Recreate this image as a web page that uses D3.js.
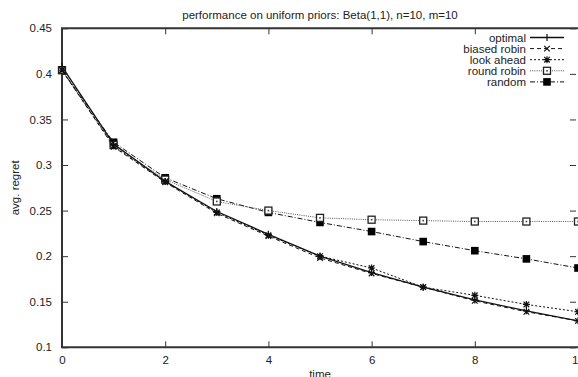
<!DOCTYPE html>
<html>
<head>
<meta charset="utf-8">
<script src="https://cdn.jsdelivr.net/npm/d3@7"></script>
<style>
  html, body { margin: 0; padding: 0; background: #fff; }
  svg { display: block; }
  text { font-family: "Liberation Sans", Arial, Helvetica, sans-serif; fill: #222; }
</style>
</head>
<body>
<svg id="chart" width="578" height="377"></svg>
<script>
const title = "performance on uniform priors: Beta(1,1), n=10, m=10";
const xLabel = "time";
const yLabel = "avg. regret";
const times = [0, 1, 2, 3, 4, 5, 6, 7, 8, 9, 10];
const xTicks = [0, 2, 4, 6, 8, 10];
const yTicks = [0.1, 0.15, 0.2, 0.25, 0.3, 0.35, 0.4, 0.45];

const seriesNames = ["optimal", "biased robin", "look ahead", "round robin", "random"];
const optimal     = [0.408, 0.323, 0.282, 0.249, 0.224, 0.200, 0.182, 0.166, 0.152, 0.140, 0.129];
const biasedRobin = [0.404, 0.320, 0.281, 0.247, 0.222, 0.198, 0.181, 0.166, 0.151, 0.139, 0.129];
const lookAhead   = [0.404, 0.321, 0.282, 0.248, 0.223, 0.200, 0.187, 0.166, 0.157, 0.147, 0.139];
const roundRobin  = [0.404, 0.322, 0.284, 0.260, 0.250, 0.242, 0.240, 0.239, 0.238, 0.238, 0.238];
const random      = [0.404, 0.325, 0.286, 0.263, 0.248, 0.237, 0.227, 0.216, 0.206, 0.197, 0.187];

const seriesValues = [optimal, biasedRobin, lookAhead, roundRobin, random];
const styles = [
  { dash: null,      width: 1.3, color: "#111", marker: "plus" },
  { dash: "4,3",     width: 1,   color: "#111", marker: "cross" },
  { dash: "2,2",     width: 1,   color: "#111", marker: "star" },
  { dash: "1,1.2",   width: 1,   color: "#555", marker: "openSquare" },
  { dash: "5,2,1,2", width: 1,   color: "#111", marker: "filledSquare" }
];

const svg = d3.select("#chart");
const L = 62, R = 578, T = 28.3, B = 347.3;
const x = d3.scaleLinear().domain([0, 10]).range([L, R]);
const y = d3.scaleLinear().domain([0.1, 0.45]).range([B, T]);

// title
svg.append("text").attr("x", 320).attr("y", 19).attr("text-anchor", "middle")
  .attr("font-size", 11.5).text(title);

// axes (gnuplot style inward ticks, mirrored)
const tickLen = 6;
const axisColor = "#333";
const gBottom = svg.append("g").attr("transform", `translate(0,${B})`)
  .call(d3.axisBottom(x).tickValues(xTicks).tickSizeInner(-tickLen).tickSizeOuter(0).tickPadding(9).tickFormat(d3.format("d")));
const gTop = svg.append("g").attr("transform", `translate(0,${T})`)
  .call(d3.axisTop(x).tickValues(xTicks).tickSizeInner(-tickLen).tickSizeOuter(0).tickFormat(""));
const gLeft = svg.append("g").attr("transform", `translate(${L},0)`)
  .call(d3.axisLeft(y).tickValues(yTicks).tickSizeInner(-tickLen).tickSizeOuter(0).tickPadding(10).tickFormat(d => String(+d.toFixed(2))));
const gRight = svg.append("g").attr("transform", `translate(${R - 2},0)`)
  .call(d3.axisRight(y).tickValues(yTicks).tickSizeInner(-tickLen).tickSizeOuter(0).tickFormat(""));
[gBottom, gTop, gLeft, gRight].forEach(g => {
  g.select(".domain").remove();
  g.selectAll(".tick line").attr("stroke", axisColor).attr("stroke-width", 1);
  g.selectAll(".tick text").attr("font-size", 11.5).attr("fill", "#222")
    .attr("font-family", "Liberation Sans, Arial, sans-serif");
});
// frame
svg.append("path")
  .attr("d", `M${R + 2},${T}H${L}V${B}H${R + 2}`)
  .attr("fill", "none").attr("stroke", axisColor).attr("stroke-width", 2);

// axis labels
svg.append("text").attr("x", 320).attr("y", 378).attr("text-anchor", "middle")
  .attr("font-size", 11.5).text(xLabel);
svg.append("text").attr("transform", `translate(19,${(T + B) / 2}) rotate(-90)`)
  .attr("text-anchor", "middle").attr("font-size", 11.5).text(yLabel);

// markers
function drawMarker(g, kind, cx, cy, color) {
  const s = 3.5;
  if (kind === "plus") {
    g.append("path").attr("d", `M${cx - s},${cy}H${cx + s}M${cx},${cy - s}V${cy + s}`)
      .attr("stroke", color).attr("stroke-width", 1.2).attr("fill", "none");
  } else if (kind === "cross") {
    g.append("path").attr("d", `M${cx - s * 0.8},${cy - s * 0.8}L${cx + s * 0.8},${cy + s * 0.8}M${cx - s * 0.8},${cy + s * 0.8}L${cx + s * 0.8},${cy - s * 0.8}`)
      .attr("stroke", color).attr("stroke-width", 1.2).attr("fill", "none");
  } else if (kind === "star") {
    g.append("path").attr("d", `M${cx - s},${cy}H${cx + s}M${cx},${cy - s}V${cy + s}M${cx - s * 0.8},${cy - s * 0.8}L${cx + s * 0.8},${cy + s * 0.8}M${cx - s * 0.8},${cy + s * 0.8}L${cx + s * 0.8},${cy - s * 0.8}`)
      .attr("stroke", color).attr("stroke-width", 1.2).attr("fill", "none");
  } else if (kind === "openSquare") {
    g.append("rect").attr("x", cx - 3.5).attr("y", cy - 3.5).attr("width", 7).attr("height", 7)
      .attr("fill", "#fff").attr("stroke", "#222").attr("stroke-width", 1.3);
    g.append("rect").attr("x", cx - 0.8).attr("y", cy - 0.8).attr("width", 1.6).attr("height", 1.6).attr("fill", "#444");
  } else if (kind === "filledSquare") {
    g.append("rect").attr("x", cx - 3.8).attr("y", cy - 3.8).attr("width", 7.6).attr("height", 7.6)
      .attr("fill", "#000");
  }
}

const line = d3.line().x((d, i) => x(times[i])).y(d => y(d));
const plot = svg.append("g");
// draw in reverse so optimal is on top
for (let k = seriesValues.length - 1; k >= 0; k--) {
  const st = styles[k];
  const g = plot.append("g");
  g.append("path").datum(seriesValues[k]).attr("d", line)
    .attr("fill", "none").attr("stroke", st.color).attr("stroke-width", st.width)
    .attr("stroke-dasharray", st.dash);
  seriesValues[k].forEach((v, i) => drawMarker(g, st.marker, x(times[i]), y(v), "#111"));
}

// legend
const legend = svg.append("g");
const lx = 526, ly0 = 37.5, ldy = 11.1;
seriesNames.forEach((name, k) => {
  const st = styles[k];
  const yy = ly0 + k * ldy;
  legend.append("text").attr("x", lx).attr("y", yy + 4).attr("text-anchor", "end")
    .attr("font-size", 11.5).text(name);
  legend.append("line").attr("x1", 530).attr("x2", 564).attr("y1", yy).attr("y2", yy)
    .attr("stroke", st.color).attr("stroke-width", st.width).attr("stroke-dasharray", st.dash);
  drawMarker(legend, st.marker, 547, yy, "#111");
});
</script>
</body>
</html>
